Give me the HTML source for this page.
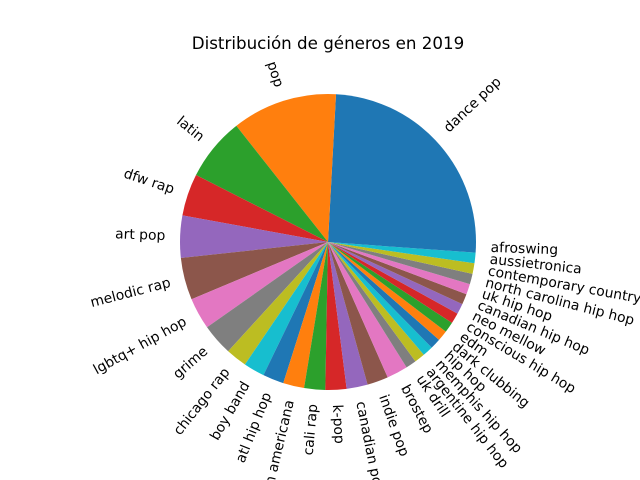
<!DOCTYPE html>
<html><head><meta charset="utf-8"><style>
html,body{margin:0;padding:0;background:#fff;overflow:hidden;width:640px;height:480px;}
svg{display:block;font-family:"DejaVu Sans","Liberation Sans",sans-serif;overflow:hidden;}
</style></head><body>
<svg id="chart" width="640" height="480">
<rect width="640" height="480" fill="#fff"/>
<text x="328" y="49" text-anchor="middle" font-size="16.7" fill="#000">Distribución de géneros en 2019</text>
<g id="slices"></g>
<g id="labels"></g>
</svg>
<script>
const genres = ["dance pop","pop","latin","dfw rap","art pop","melodic rap","lgbtq+ hip hop","grime","chicago rap","boy band","atl hip hop","latin americana","cali rap","k-pop","canadian pop","indie pop","brostep","uk drill","argentine hip hop","memphis hip hop","hip hop","dark clubbing","edm","conscious hip hop","neo mellow","canadian hip hop","uk hip hop","north carolina hip hop","contemporary country","aussietronica","afroswing"];
const counts = [21,10,6,4,4,4,3,3,2,2,2,2,2,2,2,2,2,1,1,1,1,1,1,1,1,1,1,1,1,1,1];
const colors = ["#1f77b4","#ff7f0e","#2ca02c","#d62728","#9467bd","#8c564b","#e377c2","#7f7f7f","#bcbd22","#17becf"];
const cx=328, cy=242, R=148;
const NS="http://www.w3.org/2000/svg";
const total=counts.reduce((a,b)=>a+b,0);
const sg=document.getElementById('slices'), lg=document.getElementById('labels');
function pt(r,deg){const a=deg*Math.PI/180;return [cx+r*Math.cos(a),cy-r*Math.sin(a)];}
let start=0;
counts.forEach((c,i)=>{
  const sweep=c/total*360, end=start+sweep;
  const p1=pt(R,start), p2=pt(R,end);
  const large=sweep>180?1:0;
  const path=document.createElementNS(NS,'path');
  path.setAttribute('d',`M${cx},${cy} L${p1[0]},${p1[1]} A${R},${R} 0 ${large} 0 ${p2[0]},${p2[1]} Z`);
  path.setAttribute('fill',colors[i%10]);
  
  
  sg.appendChild(path);
  const mid=(start+end)/2;
  const lp=pt(R*1.1,mid);
  const xr=Math.cos(mid*Math.PI/180);
  const rot = xr>=0 ? mid : mid-180;
  const t=document.createElementNS(NS,'text');
  t.setAttribute('transform',`translate(${lp[0]},${lp[1]}) rotate(${-rot})`);
  t.setAttribute('text-anchor',xr>=0?'start':'end');
  t.setAttribute('dominant-baseline','central');
  t.setAttribute('font-size','13.9');
  t.setAttribute('fill','#000');
  t.textContent=genres[i];
  
  
  lg.appendChild(t);
  start=end;
});
</script>
</body></html>
